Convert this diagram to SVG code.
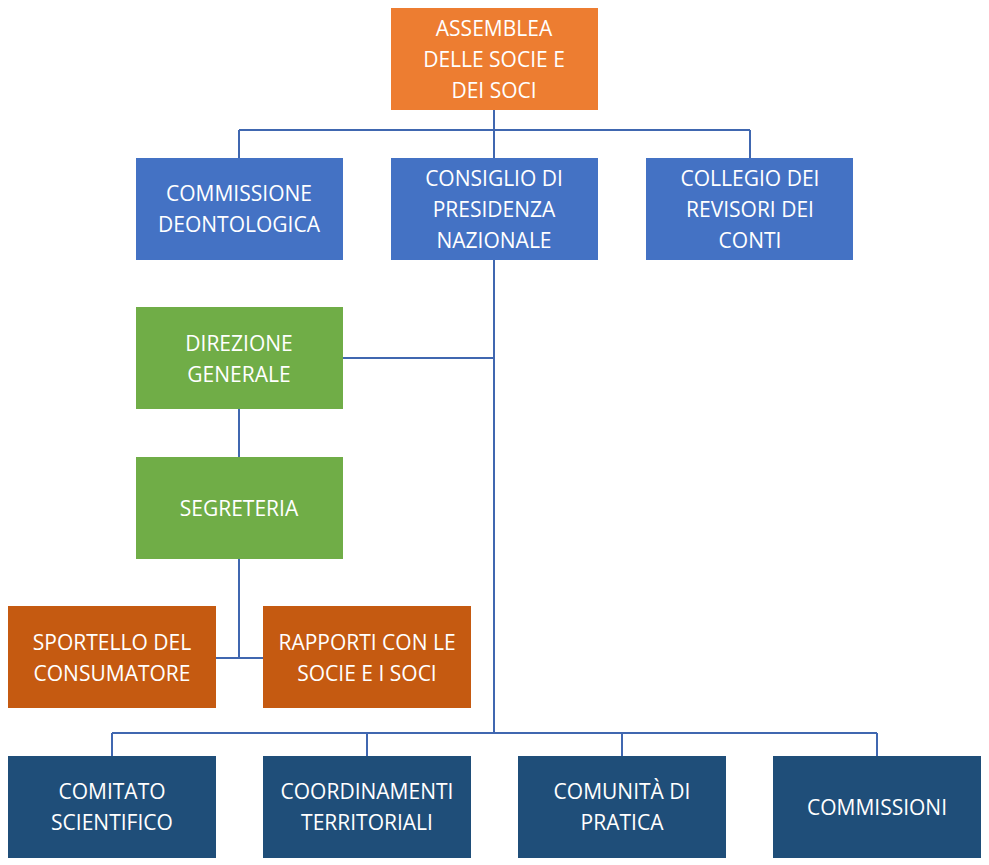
<svg xmlns="http://www.w3.org/2000/svg" width="989" height="865" viewBox="0 0 989 865">
<style>
text{font-family:"Open Sans","Liberation Sans",sans-serif;font-size:21px;fill:#fff;text-anchor:middle}
.c line{stroke:#4067B0;stroke-width:2}
.o{fill:#ED7D31}.b{fill:#4472C4}.g{fill:#70AD47}.r{fill:#C55A11}.n{fill:#1F4E79}
</style>
<rect width="989" height="865" fill="#fff"/>
<g class="c">
<line x1="494" y1="110" x2="494" y2="130"/><line x1="239" y1="130" x2="750" y2="130"/>
<line x1="239" y1="130" x2="239" y2="158"/><line x1="494" y1="130" x2="494" y2="158"/><line x1="750" y1="130" x2="750" y2="158"/>
<line x1="494" y1="260" x2="494" y2="733"/><line x1="343" y1="358" x2="494" y2="358"/>
<line x1="239" y1="409" x2="239" y2="457"/><line x1="239" y1="559" x2="239" y2="658"/><line x1="216" y1="658" x2="263" y2="658"/>
<line x1="112" y1="733" x2="877" y2="733"/>
<line x1="112" y1="733" x2="112" y2="756"/><line x1="367" y1="733" x2="367" y2="756"/><line x1="622" y1="733" x2="622" y2="756"/><line x1="877" y1="733" x2="877" y2="756"/>
</g>
<g id="assemblea"><rect class="o" x="391" y="8" width="207" height="102"/><text x="494" y="36">ASSEMBLEA</text><text x="494" y="67">DELLE SOCIE E</text><text x="494" y="98">DEI SOCI</text></g>
<g id="commissione"><rect class="b" x="136" y="158" width="207" height="102"/><text x="239" y="201">COMMISSIONE</text><text x="239" y="232">DEONTOLOGICA</text></g>
<g id="consiglio"><rect class="b" x="391" y="158" width="207" height="102"/><text x="494" y="186">CONSIGLIO DI</text><text x="494" y="217">PRESIDENZA</text><text x="494" y="248">NAZIONALE</text></g>
<g id="collegio"><rect class="b" x="646" y="158" width="207" height="102"/><text x="750" y="186">COLLEGIO DEI</text><text x="750" y="217">REVISORI DEI</text><text x="750" y="248">CONTI</text></g>
<g id="direzione"><rect class="g" x="136" y="307" width="207" height="102"/><text x="239" y="351">DIREZIONE</text><text x="239" y="382">GENERALE</text></g>
<g id="segreteria"><rect class="g" x="136" y="457" width="207" height="102"/><text x="239" y="516">SEGRETERIA</text></g>
<g id="sportello"><rect class="r" x="8" y="606" width="208" height="102"/><text x="112" y="650">SPORTELLO DEL</text><text x="112" y="681">CONSUMATORE</text></g>
<g id="rapporti"><rect class="r" x="263" y="606" width="208" height="102"/><text x="367" y="650">RAPPORTI CON LE</text><text x="367" y="681">SOCIE E I SOCI</text></g>
<g id="comitato"><rect class="n" x="8" y="756" width="208" height="102"/><text x="112" y="799">COMITATO</text><text x="112" y="830">SCIENTIFICO</text></g>
<g id="coordinamenti"><rect class="n" x="263" y="756" width="208" height="102"/><text x="367" y="799">COORDINAMENTI</text><text x="367" y="830">TERRITORIALI</text></g>
<g id="comunita"><rect class="n" x="518" y="756" width="208" height="102"/><text x="622" y="799">COMUNITÀ DI</text><text x="622" y="830">PRATICA</text></g>
<g id="commissioni"><rect class="n" x="773" y="756" width="208" height="102"/><text x="877" y="815">COMMISSIONI</text></g>
</svg>
